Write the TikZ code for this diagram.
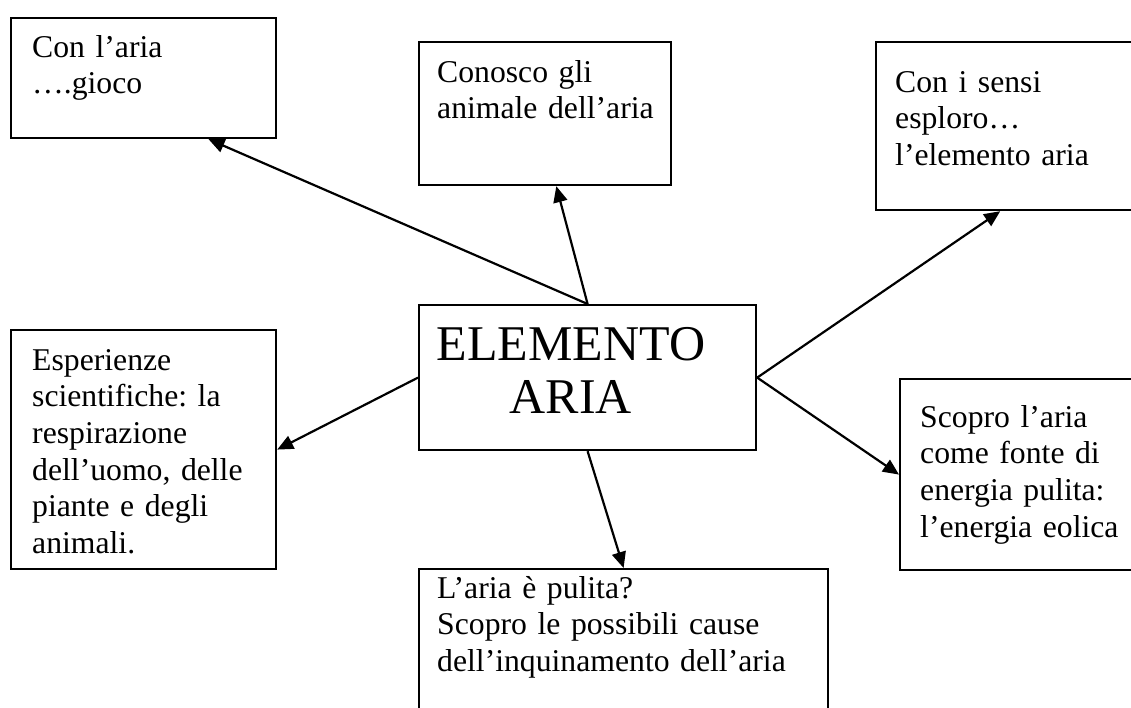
\documentclass[tikz,border=0pt]{standalone}
\usepackage{fontspec}
\setmainfont{Liberation Serif}
\usetikzlibrary{arrows.meta,calc}
\begin{document}
\frenchspacing
\begin{tikzpicture}[x=1pt,y=-1pt,
  box/.style={draw=black,line width=2.2pt,rectangle,inner sep=0pt,anchor=north west},
  txt/.style={anchor=base west,inner sep=0pt,text width=400pt,align=left,font=\fontsize{31.7}{36.7}\selectfont},
  bigtxt/.style={anchor=base,inner sep=0pt,text width=330pt,align=center,font=\fontsize{50}{53}\selectfont},
  link/.style={line width=2.2pt,-{Triangle[length=16pt,width=14pt]}}]
\useasboundingbox (0,0) rectangle (1131,707);
\clip (0,0) rectangle (1131,707);
\fill[white] (0,0) rectangle (1131,707);
% boxes
\node[box,minimum width=265pt,minimum height=120pt] (b1) at (10,17) {};
\node[box,minimum width=252pt,minimum height=143pt] (b2) at (418,41) {};
\node[box,minimum width=270pt,minimum height=168pt] (b3) at (875,41) {};
\node[box,minimum width=337pt,minimum height=145pt] (c) at (418,304) {};
\node[box,minimum width=265pt,minimum height=239pt] (b5) at (10,329) {};
\node[box,minimum width=250pt,minimum height=191pt] (b6) at (899,378) {};
\node[box,minimum width=409pt,minimum height=150pt] (b7) at (418,568) {};
% texts
\node[txt] (t1) at (32,57) {Con l’aria\\….gioco};
\node[txt] (t2) at (437,82) {Conosco gli\\animale dell’aria};
\node[txt] (t3) at (895,92) {Con i sensi\\esploro…\\l’elemento aria};
\node[txt] (t5) at (32,370) {Esperienze\\scientifiche: la\\respirazione\\dell’uomo, delle\\piante e degli\\animali.};
\node[txt] (t6) at (920,427) {Scopro l’aria\\come fonte di\\energia pulita:\\l’energia eolica};
\node[txt] (t7) at (437,598) {L’aria è pulita?\\Scopro le possibili cause\\dell’inquinamento dell’aria};
\node[bigtxt] (ct) at (571,360) {ELEMENTO\\ARIA};
% connectors
\draw[link] (c.north) -- ($(b1.south west)!0.743!(b1.south east)$);
\draw[link] (c.north) -- ($(b2.south west)!0.544!(b2.south east)$);
\draw[link] (c.east) -- ($(b3.south west)!0.46!(b3.south east)$);
\draw[link] (c.west) -- (b5.east);
\draw[link] (c.east) -- (b6.west);
\draw[link] (c.south) -- (b7.north);
\end{tikzpicture}
\end{document}
